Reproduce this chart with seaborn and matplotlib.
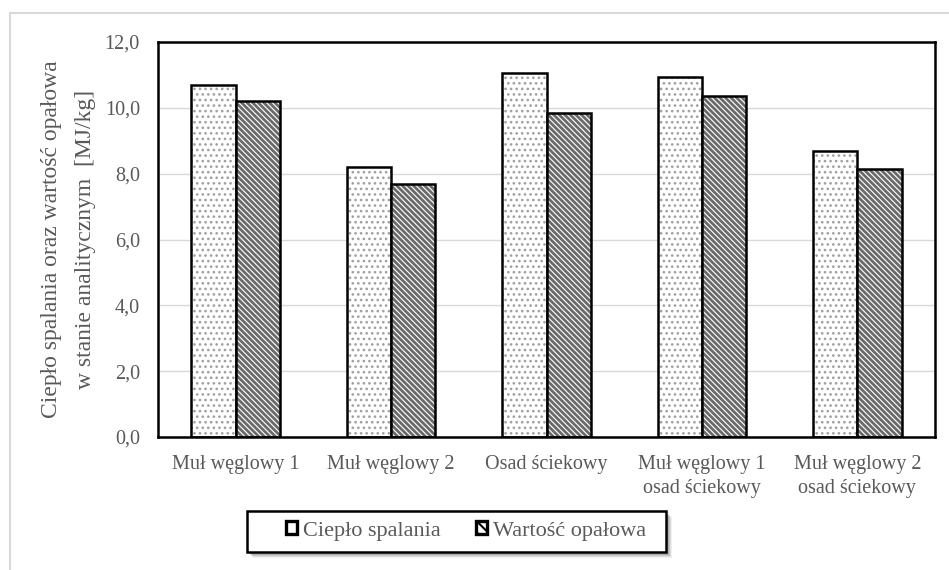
import matplotlib
matplotlib.use('Agg')

import matplotlib.pyplot as plt
import matplotlib.ticker as mticker
import matplotlib.colors as mcolors
from matplotlib.lines import Line2D
from matplotlib.patches import Patch, Rectangle
import seaborn as sns
import pandas as pd

sns.set_style('white')
plt.rcParams['font.family'] = ['Liberation Serif', 'DejaVu Serif']
plt.rcParams['hatch.color'] = '#7f7f7f'
plt.rcParams['hatch.linewidth'] = 1.5

# dane
kategorie = ['Muł węglowy 1', 'Muł węglowy 2', 'Osad ściekowy',
             'Muł węglowy 1\nosad ściekowy', 'Muł węglowy 2\nosad ściekowy']
cieplo_spalania = [10.70, 8.20, 11.05, 10.95, 8.70]
wartosc_opalowa = [10.20, 7.70, 9.85, 10.35, 8.15]
serie = ['Ciepło spalania', 'Wartość opałowa']

df = pd.DataFrame({
    'kategoria': kategorie * 2,
    'wartosc': cieplo_spalania + wartosc_opalowa,
    'seria': [serie[0]] * 5 + [serie[1]] * 5,
})

W, H = 949, 570
fig = plt.figure(figsize=(W / 100, H / 100), dpi=100)
ax = fig.add_axes([158 / W, 1 - 437 / H, (935 - 158) / W, (437 - 42) / H])

sns.barplot(data=df, x='kategoria', y='wartosc', hue='seria', order=kategorie,
            hue_order=serie, palette=['white', 'white'], width=0.57,
            edgecolor='black', linewidth=1.8, ax=ax, legend=False)

hatches = ['...', '\\\\\\\\\\\\']
hatch_kolory = ['#a0a0a0', '#6a6a6a']
hatch_grubosc = [1.1, 2.0]
for i, cont in enumerate(ax.containers):
    for bar in cont:
        bar.set_hatch(hatches[i])
        bar._hatch_color = mcolors.to_rgba(hatch_kolory[i])
        if hasattr(bar, 'set_hatch_linewidth'):
            bar.set_hatch_linewidth(hatch_grubosc[i])

ax.set_ylim(0, 12)
ax.set_yticks([0, 2, 4, 6, 8, 10, 12])
ax.yaxis.set_major_formatter(mticker.FuncFormatter(lambda v, p: f'{v:.1f}'.replace('.', ',')))
ax.grid(axis='y', color='#d9d9d9', linewidth=1)
ax.set_axisbelow(True)
for s in ax.spines.values():
    s.set_color('black')
    s.set_linewidth(1.8)

ax.tick_params(axis='both', labelsize=14.5, colors='#595959', length=0)
ax.tick_params(axis='y', pad=13)
ax.tick_params(axis='x', pad=13)
for t in ax.get_xticklabels():
    t.set_linespacing(1.35)
ax.set_xlabel('')
ax.set_ylabel('Ciepło spalania oraz wartość opałowa\nw stanie analitycznym  [MJ/kg]',
              fontsize=17, color='#595959', labelpad=6, linespacing=1.85)

# legenda - ramka z cieniem rysowana osobno
x0, y0, lw_, lh_ = 247, 511, 419, 41
for k, a in [(6, 0.06), (5, 0.08), (4, 0.10), (3, 0.12)]:
    fig.add_artist(Rectangle(((x0 + k) / W, 1 - (y0 + lh_ + k) / H), lw_ / W, lh_ / H,
                             transform=fig.transFigure, facecolor='black', edgecolor='none',
                             alpha=a, zorder=4))
fig.add_artist(Rectangle((x0 / W, 1 - (y0 + lh_) / H), lw_ / W, lh_ / H,
                         transform=fig.transFigure, facecolor='white', edgecolor='black',
                         linewidth=1.8, zorder=5))

uchwyty = [Patch(facecolor='white', edgecolor='black', hatch='.', linewidth=2.4),
           Patch(facecolor='white', edgecolor='black', hatch='\\\\\\', linewidth=2.4)]
leg = fig.legend(uchwyty, serie, loc='center', bbox_to_anchor=(466 / W, 1 - 531 / H),
                 ncol=2, fontsize=16, frameon=False,
                 handlelength=0.5, handleheight=0.5, handletextpad=0.25, columnspacing=1.6,
                 borderpad=0.3, borderaxespad=0)
leg.set_zorder(6)
for t in leg.get_texts():
    t.set_color('#595959')

# ramka wykresu
fig.add_artist(Line2D([10 / W, 10 / W], [0, 1 - 13 / H], color='#d9d9d9', linewidth=1.5))
fig.add_artist(Line2D([10 / W, 1], [1 - 13 / H, 1 - 13 / H], color='#d9d9d9', linewidth=1.5))

fig.savefig('out.png', dpi=100)
